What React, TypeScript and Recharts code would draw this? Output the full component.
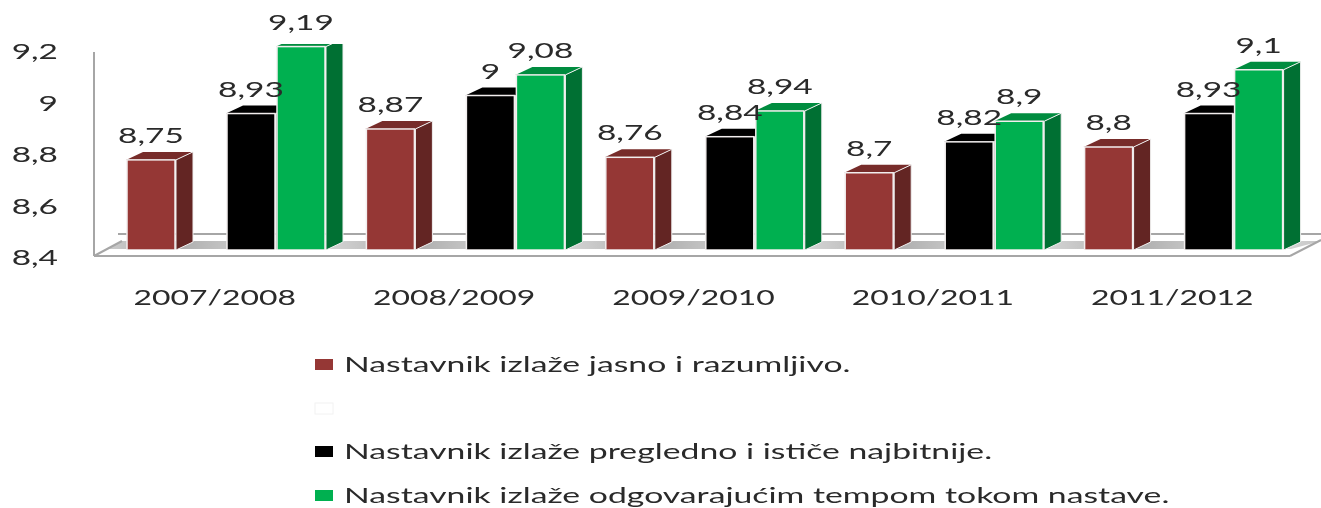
import { Bar, BarChart, LabelList, Legend, XAxis, YAxis } from "recharts";

const years = ["2007/2008", "2008/2009", "2009/2010", "2010/2011", "2011/2012"];
const jasno = [8.75, 8.87, 8.76, 8.7, 8.8];
const blank = [null, null, null, null, null];
const pregledno = [8.93, 9, 8.84, 8.82, 8.93];
const tempo = [9.19, 9.08, 8.94, 8.9, 9.1];
const yTicks = [8.4, 8.6, 8.8, 9, 9.2];
const legendNames = [
  "Nastavnik izlaže jasno i razumljivo.",
  "",
  "Nastavnik izlaže pregledno i ističe najbitnije.",
  "Nastavnik izlaže odgovarajućim tempom tokom nastave.",
];
const legendColors = ["#953735", "#ffffff", "#000000", "#00b050"];
const legendBaselines = [372, 416, 459, 503];

const data = years.map((year, i) => ({
  year,
  jasno: jasno[i],
  blank: blank[i],
  pregledno: pregledno[i],
  tempo: tempo[i],
}));

const FONT = "Lato, sans-serif";
const TEXT = "#2a2a2a";
const WALL = "#a6a6a6";

const comma = (v: number) => String(v).replace(".", ",");

// the source picture is stretched sideways, so all text gets an x scale
function WideText({ x, y, anchor = "middle", stretch = 1.45, children }: any) {
  return (
    <text
      transform={`translate(${x},${y}) scale(${stretch},1)`}
      textAnchor={anchor}
      fontFamily={FONT}
      fontSize={22}
      fill={TEXT}
    >
      {children}
    </text>
  );
}

const YTick = ({ y, payload }: any) => (
  <WideText x={58} y={y + 15} anchor="end" stretch={1.52}>
    {comma(payload.value)}
  </WideText>
);

const XTick = ({ x, payload }: any) => (
  <WideText x={x - 11} y={305}>
    {payload.value}
  </WideText>
);

const ValueLabel = ({ x, y, width, value }: any) =>
  value == null ? null : (
    <WideText x={x + width / 2} y={y - 17} stretch={1.52}>
      {comma(value)}
    </WideText>
  );

const bar3d = (front: string, side: string, top: string) => (props: any) => {
  const { x, y, width, height } = props;
  if (height == null || !width) return <g />;
  const dx = 17;
  const dy = 8;
  const r = x + width;
  const b = y + height;
  return (
    <g>
      <polygon points={`${x},${y} ${x + dx},${y - dy} ${r + dx},${y - dy} ${r},${y}`} fill={top} />
      <polygon points={`${r},${y} ${r + dx},${y - dy} ${r + dx},${b - dy} ${r},${b}`} fill={side} stroke="#f0f0f0" strokeWidth={1} />
      <rect x={x + 1} y={y} width={width - 2} height={height} fill={front} stroke="#f2eeee" strokeWidth={1.5} />
    </g>
  );
};

function Floor() {
  return (
    <g>
      <defs>
        <linearGradient id="floorFade" gradientUnits="userSpaceOnUse" x1={176} y1={0} x2={296} y2={0} spreadMethod="reflect">
          <stop offset="0%" stopColor="#adadad" />
          <stop offset="100%" stopColor="#e2e2e2" />
        </linearGradient>
      </defs>
      <line x1={94} y1={52} x2={94} y2={256} stroke={WALL} strokeWidth={2} />
      <line x1={118} y1={234} x2={1321} y2={234} stroke={WALL} strokeWidth={2} />
      <polygon points="122,241 1321,241 1291,249 106,249" fill="url(#floorFade)" />
      <line x1={94} y1={256} x2={122} y2={241} stroke={WALL} strokeWidth={2} />
      <line x1={94} y1={256} x2={1290} y2={256} stroke={WALL} strokeWidth={2} />
      <line x1={1290} y1={256} x2={1321} y2={240} stroke={WALL} strokeWidth={2} />
    </g>
  );
}

function LegendBox() {
  return (
    <svg width={1321} height={508} style={{ display: "block" }}>
      {legendNames.map((name, i) => (
        <g key={i}>
          <rect
            x={315}
            y={legendBaselines[i] - 13}
            width={18}
            height={11}
            fill={legendColors[i]}
            stroke={name ? "none" : "#f2f2f2"}
          />
          <WideText x={344} y={legendBaselines[i]} anchor="start" stretch={1.535}>
            {name}
          </WideText>
        </g>
      ))}
    </svg>
  );
}

export default function App() {
  return (
    <div style={{ position: "absolute", left: 0, top: 0, filter: "blur(0.5px)" }}>
      <BarChart
        width={1321}
        height={508}
        data={data}
        barSize={50}
        barGap={0}
        margin={{ top: 44, right: 18, bottom: 218, left: 0 }}
      >
        <XAxis dataKey="year" axisLine={false} tickLine={false} tick={<XTick />} height={40} interval={0} />
        <YAxis
          domain={[8.4, 9.2]}
          ticks={yTicks}
          axisLine={false}
          tickLine={false}
          tick={<YTick />}
          width={106}
          allowDataOverflow
        />
        <Floor />
        <Bar dataKey="jasno" isAnimationActive={false} shape={bar3d("#953735", "#632523", "#772c2a")}>
          <LabelList dataKey="jasno" content={<ValueLabel />} />
        </Bar>
        <Bar dataKey="blank" isAnimationActive={false} fill="#ffffff" />
        <Bar dataKey="pregledno" isAnimationActive={false} shape={bar3d("#000000", "#000000", "#000000")}>
          <LabelList dataKey="pregledno" content={<ValueLabel />} />
        </Bar>
        <Bar dataKey="tempo" isAnimationActive={false} shape={bar3d("#00b050", "#007033", "#008c3f")}>
          <LabelList dataKey="tempo" content={<ValueLabel />} />
        </Bar>
        <Legend
          layout="vertical"
          align="center"
          verticalAlign="middle"
          content={<LegendBox />}
          wrapperStyle={{ left: 0, top: 0, width: 1321, height: 508, pointerEvents: "none" }}
        />
      </BarChart>
    </div>
  );
}
